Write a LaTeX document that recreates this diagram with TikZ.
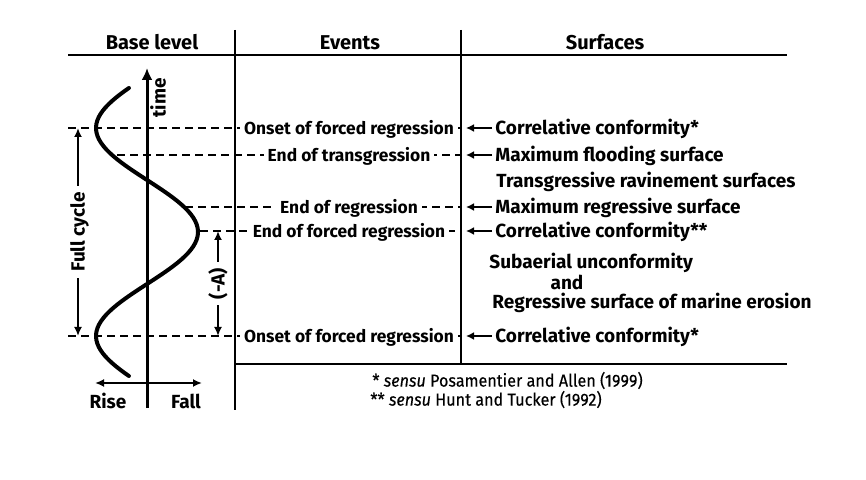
\documentclass[tikz,border=0pt]{standalone}
\usepackage{fontspec}
\setmainfont{Fira Sans}
\newfontfamily\notefont[FakeStretch=0.93,FakeBold=0.3]{Fira Sans}
\usepackage{tikz}
\usetikzlibrary{arrows.meta,positioning,calc}
\definecolor{ink}{HTML}{000000}
\tikzset{
  hdr/.style={font=\bfseries\fontsize{10}{12}\selectfont,inner sep=1pt,
    text height=7pt,text depth=0pt},
  lab/.style={font=\bfseries\fontsize{9.5}{11}\selectfont,inner sep=1.5pt,
    text height=6.6pt,text depth=0pt},
  evlab/.style={lab,font=\bfseries\fontsize{8.7}{11}\selectfont,fill=white,inner sep=2pt},
  sflab/.style={lab,anchor=west},
  note/.style={font=\notefont\fontsize{8.7}{11}\selectfont,anchor=west,inner sep=1pt,
    text height=6.6pt,text depth=0pt},
  tline/.style={draw=ink,line width=1pt},
  guide/.style={draw=ink,line width=0.9pt,dash pattern=on 4pt off 2.5pt},
  axis/.style={draw=ink,line width=1.5pt,-{Latex[length=6pt,width=5.5pt]}},
  ptr/.style={draw=ink,line width=1.1pt,-{Latex[length=4pt,width=4pt]},shorten >=2.5pt},
  twoway/.style={draw=ink,line width=1.1pt,
    {Latex[length=4.5pt,width=4pt]}-{Latex[length=4.5pt,width=4pt]}},
  curve/.style={draw=ink,line width=2pt,line cap=round},
}

\begin{document}
\begin{tikzpicture}[x=0.5pt,y=-0.5pt]
  \useasboundingbox (0,0) rectangle (866,480);
  \coordinate (hl) at (68,55);  \coordinate (hr) at (787,55);
  \coordinate (c1t) at (235,30); \coordinate (c1b) at (235,410);
  \coordinate (c2t) at (461,30); \coordinate (c2b) at (461,364);
  \coordinate (fr) at (787,364);

  % --- base-level curve and time axis ---
  \draw[curve] plot[domain=88:376,samples=90,variable=\tt]
    ({147-51*cos((\tt-128)/208*360)},\tt);
  \coordinate (tb) at (147,408); \coordinate (tt) at (147,68);
  \draw[axis] (tb) -- (tt);
  \node[lab,rotate=90] (ltime) at (159,98) {time};

  % --- dashed event lines ---
  \foreach \y/\xs/\nm/\txt in {128/68/ev1/Onset of forced regression,
      155/117/ev2/End of transgression, 207/185/ev3/End of regression,
      231/200/ev4/End of forced regression, 336/68/ev5/Onset of forced regression}{
    \coordinate (g\nm) at (\xs,\y);
    \draw[guide] (g\nm) -- (g\nm -| c2t);
    \node[evlab] (\nm) at (349,\y) {\txt};
  }

  % --- table frame ---
  \draw[tline] (hl) -- (hr);
  \draw[tline] (c1t) -- (c1b);
  \draw[tline] (c2t) -- (c2b);
  \draw[tline] (c1t |- fr) -- (fr);
  \node[hdr] (hbase) at (152,43) {Base level};
  \node[hdr] (hevent) at (350,43) {Events};
  \node[hdr] (hsurf) at (605,43) {Surfaces};

  % --- spans ---
  \coordinate (fc1) at (78,128); \coordinate (fc2) at (78,336);
  \draw[twoway] (fc1) -- (fc2)
    node[midway,lab,fill=white,rotate=90,inner sep=3pt] (lfull) {Full cycle};
  \coordinate (fa1) at (218,231); \coordinate (fa2) at (218,336);
  \draw[twoway] (fa1) -- (fa2)
    node[midway,lab,fill=white,rotate=90,inner sep=3pt] (lfa) {(-A)};
  \coordinate (rl) at (95,383); \coordinate (rr) at (202,383);
  \draw[twoway] (rl) -- (rr);
  \node[lab] (lrise) at (108,402) {Rise};
  \node[lab] (lfall) at (186,402) {Fall};

  % --- surfaces ---
  \foreach \y/\nm/\txt in {128/sf1/Correlative conformity*,
      155/sf2/Maximum flooding surface, 207/sf3/Maximum regressive surface,
      231/sf4/Correlative conformity**, 336/sf5/Correlative conformity*}{
    \node[sflab] (\nm) at (492,\y) {\txt};
    \draw[ptr] (\nm.west) -- (\nm.west -| c2t);
  }
  \node[sflab] (trs) at (493,181) {Transgressive ravinement surfaces};
  \node[sflab] (sau) at (486,262) {Subaerial unconformity};
  \node[lab] (sand) at (567,283) {and};
  \node[sflab] (rsme) at (489,302) {Regressive surface of marine erosion};

  % --- notes ---
  \node[note] (n1) at (370,380) {* \emph{sensu} Posamentier and Allen (1999)};
  \node[note] (n2) at (368,399) {** \emph{sensu} Hunt and Tucker (1992)};
\end{tikzpicture}
\end{document}
